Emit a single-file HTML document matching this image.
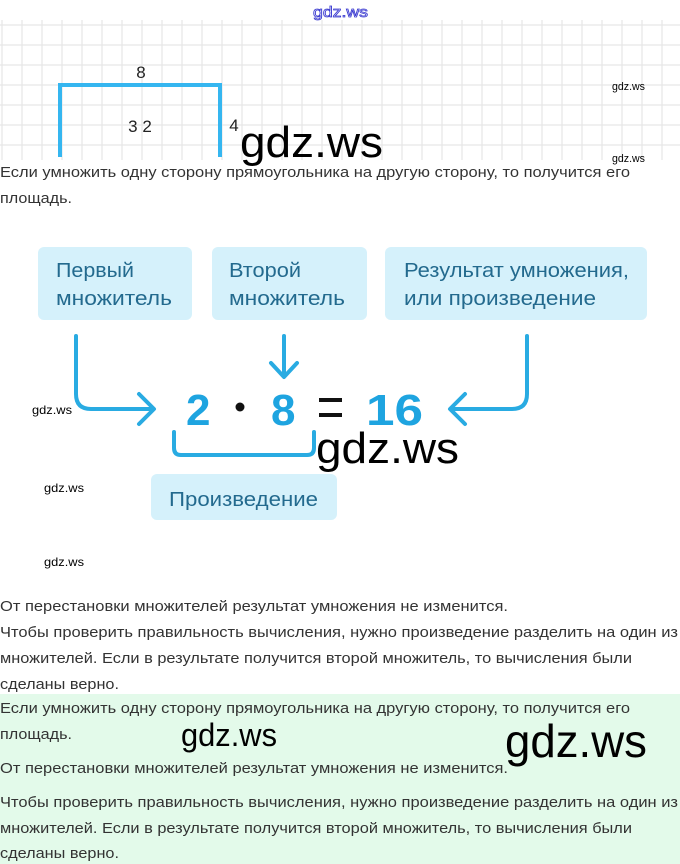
<!DOCTYPE html>
<html><head><meta charset="utf-8"><style>
html,body{margin:0;padding:0;background:#fff;width:680px;height:864px;overflow:hidden}
svg{display:block}
.t{font-family:"Liberation Sans",sans-serif;font-size:15px;fill:#333}
.b{font-family:"Liberation Sans",sans-serif;font-size:20px;fill:#236a8e;font-weight:500}
.w{font-family:"Liberation Sans",sans-serif;fill:#000}
</style></head><body>
<svg width="680" height="864" viewBox="0 0 680 864" xmlns="http://www.w3.org/2000/svg">
<rect x="0" y="694" width="680" height="170" fill="#e3faea"/>
<g stroke="#e6e6e6" stroke-width="1.2">
<line x1="0" y1="25" x2="680" y2="25"/><line x1="0" y1="45" x2="680" y2="45"/><line x1="0" y1="65" x2="680" y2="65"/><line x1="0" y1="85" x2="680" y2="85"/><line x1="0" y1="105" x2="680" y2="105"/><line x1="0" y1="125" x2="680" y2="125"/><line x1="0" y1="145" x2="680" y2="145"/>
</g>
<g stroke="#e6e6e6" stroke-width="1.2" id="vg"></g>
<script>
var g=document.getElementById('vg');for(var x=2;x<680;x+=20){var l=document.createElementNS('http://www.w3.org/2000/svg','line');l.setAttribute('x1',x);l.setAttribute('x2',x);l.setAttribute('y1',20);l.setAttribute('y2',160);g.appendChild(l);}
</script>
<path d="M60 157 V85 H220 V157" fill="none" stroke="#35b6f0" stroke-width="4"/>
<text x="141" y="78" font-family="Liberation Sans" font-size="17" text-anchor="middle" fill="#222">8</text>
<text x="140" y="132" font-family="Liberation Sans" font-size="17" text-anchor="middle" fill="#222">3 2</text>
<text x="234" y="131" font-family="Liberation Sans" font-size="17" text-anchor="middle" fill="#222">4</text>
<text x="313" y="17" font-family="Liberation Sans" font-size="15" fill="#fff" stroke="#3a3ad0" stroke-width="0.8" textLength="55" lengthAdjust="spacingAndGlyphs">gdz.ws</text>
<text class="w" x="240" y="157" font-size="44" textLength="143" lengthAdjust="spacingAndGlyphs">gdz.ws</text>
<text class="w" x="612" y="90" font-size="11" textLength="33" lengthAdjust="spacingAndGlyphs">gdz.ws</text>
<text class="w" x="612" y="162" font-size="11" textLength="33" lengthAdjust="spacingAndGlyphs">gdz.ws</text>

<text class="t" x="0" y="177" textLength="630" lengthAdjust="spacingAndGlyphs">Если умножить одну сторону прямоугольника на другую сторону, то получится его</text>
<text class="t" x="0" y="203" textLength="72" lengthAdjust="spacingAndGlyphs">площадь.</text>

<rect x="38" y="247" width="154" height="73" rx="6" fill="#d5f1fb"/>
<rect x="212" y="247" width="155" height="73" rx="6" fill="#d5f1fb"/>
<rect x="385" y="247" width="262" height="73" rx="6" fill="#d5f1fb"/>
<text class="b" x="56" y="277" textLength="78" lengthAdjust="spacingAndGlyphs">Первый</text>
<text class="b" x="56" y="305" textLength="116" lengthAdjust="spacingAndGlyphs">множитель</text>
<text class="b" x="229" y="277" textLength="72" lengthAdjust="spacingAndGlyphs">Второй</text>
<text class="b" x="229" y="305" textLength="116" lengthAdjust="spacingAndGlyphs">множитель</text>
<text class="b" x="404" y="277" textLength="225" lengthAdjust="spacingAndGlyphs">Результат умножения,</text>
<text class="b" x="404" y="305" textLength="192" lengthAdjust="spacingAndGlyphs">или произведение</text>

<g fill="none" stroke="#29abe2" stroke-width="4" stroke-linecap="round" stroke-linejoin="round">
<path d="M76 336 V394 Q76 409 91 409 H153"/>
<path d="M139 394 L154 409 L139 424"/>
<path d="M284 336 V376"/>
<path d="M271 363 L284 377 L297 363"/>
<path d="M527 336 V394 Q527 409 512 409 H451"/>
<path d="M465 394 L450 409 L465 424"/>
<path d="M174 432 V448 Q174 455 181 455 H307 Q314 455 314 448 V432"/>
</g>
<g font-family="Liberation Sans" font-weight="bold" font-size="44" fill="#1ea4e0">
<text x="186" y="425">2</text>
<text x="271" y="425">8</text>
<text x="366" y="425" textLength="57" lengthAdjust="spacingAndGlyphs">16</text>
</g>
<circle cx="240" cy="407" r="4.5" fill="#111"/>
<rect x="319" y="398" width="23" height="4" fill="#111"/>
<rect x="319" y="413" width="23" height="4" fill="#111"/>
<text class="w" x="316" y="463" font-size="44" textLength="143" lengthAdjust="spacingAndGlyphs">gdz.ws</text>
<text class="w" x="32" y="414" font-size="12" textLength="40" lengthAdjust="spacingAndGlyphs">gdz.ws</text>

<rect x="151" y="474" width="186" height="46" rx="6" fill="#d5f1fb"/>
<text class="b" x="169" y="506" textLength="149" lengthAdjust="spacingAndGlyphs">Произведение</text>
<text class="w" x="44" y="492" font-size="12" textLength="40" lengthAdjust="spacingAndGlyphs">gdz.ws</text>
<text class="w" x="44" y="566" font-size="12" textLength="40" lengthAdjust="spacingAndGlyphs">gdz.ws</text>

<text class="t" x="0" y="611" textLength="508" lengthAdjust="spacingAndGlyphs">От перестановки множителей результат умножения не изменится.</text>
<text class="t" x="0" y="637" textLength="678" lengthAdjust="spacingAndGlyphs">Чтобы проверить правильность вычисления, нужно произведение разделить на один из</text>
<text class="t" x="0" y="663" textLength="632" lengthAdjust="spacingAndGlyphs">множителей. Если в результате получится второй множитель, то вычисления были</text>
<text class="t" x="0" y="689" textLength="119" lengthAdjust="spacingAndGlyphs">сделаны верно.</text>
<text class="t" x="0" y="713" textLength="630" lengthAdjust="spacingAndGlyphs">Если умножить одну сторону прямоугольника на другую сторону, то получится его</text>
<text class="t" x="0" y="739" textLength="72" lengthAdjust="spacingAndGlyphs">площадь.</text>
<text class="t" x="0" y="773" textLength="508" lengthAdjust="spacingAndGlyphs">От перестановки множителей результат умножения не изменится.</text>
<text class="t" x="0" y="807" textLength="678" lengthAdjust="spacingAndGlyphs">Чтобы проверить правильность вычисления, нужно произведение разделить на один из</text>
<text class="t" x="0" y="833" textLength="632" lengthAdjust="spacingAndGlyphs">множителей. Если в результате получится второй множитель, то вычисления были</text>
<text class="t" x="0" y="858" textLength="119" lengthAdjust="spacingAndGlyphs">сделаны верно.</text>
<text class="w" x="181" y="746" font-size="32" textLength="96" lengthAdjust="spacingAndGlyphs">gdz.ws</text>
<text class="w" x="505" y="757" font-size="46" textLength="142" lengthAdjust="spacingAndGlyphs">gdz.ws</text>
</svg>
</body></html>
